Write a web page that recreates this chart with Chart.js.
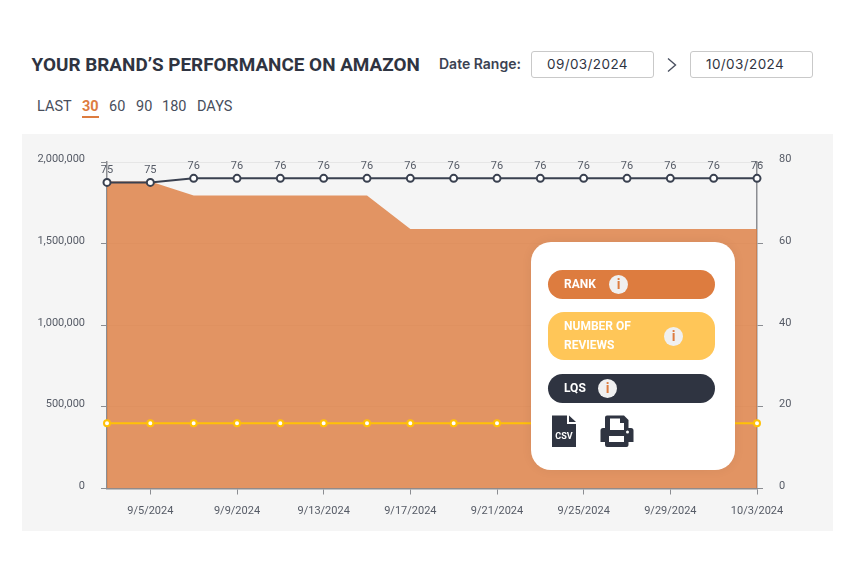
<!DOCTYPE html>
<html><head><meta charset="utf-8">
<script src="https://cdn.jsdelivr.net/npm/chart.js@4/dist/chart.umd.min.js"></script>
<style>
html,body{margin:0;padding:0;background:#fff;width:850px;height:580px;overflow:hidden;font-family:Roboto,sans-serif}
.a{position:absolute;white-space:nowrap}
#title{left:31.5px;top:54px;font:700 18.9px/22px Roboto;color:#2f3441}
.d{top:97px;font:400 14.5px/20px Roboto;color:#484e5c}
#dr{left:439px;top:54px;font:600 14px/20px Inter;color:#3b4252}
.box{top:51px;width:121px;height:25px;border:1px solid #c9c9c9;border-radius:3px;font:400 13.5px/25px Inter;color:#2f3441;letter-spacing:.4px;box-sizing:content-box}
#panel{left:22px;top:134px;width:811px;height:397px;background:#f5f5f5}
#panel canvas{display:block}
#card{left:531px;top:242px;width:204px;height:228px;background:#fff;border-radius:20px;box-shadow:0 0 12px rgba(0,0,0,.06)}
.pill{left:17px;width:167px;color:#fff;font:700 12px/19px Roboto;box-sizing:border-box}
.i{position:absolute;width:19px;height:19px;border-radius:50%;background:#f0f0f0;color:#dd7c3f;font:700 14px/19px Roboto;text-align:center}
</style></head><body>
<div class="a" id="title">YOUR BRAND’S PERFORMANCE ON AMAZON</div>
<div class="a d" style="left:37px">LAST</div>
<div class="a d" style="left:82px;font-weight:700;color:#dd7c3f;border-bottom:2px solid #dd7c3f;line-height:19px;height:19px">30</div>
<div class="a d" style="left:109px">60</div>
<div class="a d" style="left:136px">90</div>
<div class="a d" style="left:162px">180</div>
<div class="a d" style="left:197px">DAYS</div>
<div class="a" id="dr">Date Range:</div>
<div class="a box" style="left:531px"><span style="margin-left:15px">09/03/2024</span></div>
<svg class="a" style="left:665px;top:56px" width="14" height="18" viewBox="0 0 14 18"><path d="M3 2.5 L10.5 9 L3 15.5" fill="none" stroke="#4a5060" stroke-width="1.4"/></svg>
<div class="a box" style="left:690px"><span style="margin-left:15px">10/03/2024</span></div>
<div class="a" id="panel"><canvas id="c" width="811" height="397"></canvas></div>
<div class="a" id="card">
  <div class="a pill" style="top:28px;height:29px;background:#dd7c3f;border-radius:15px;padding:5px 0 0 16px">RANK<span class="i" style="left:61px;top:5px">i</span></div>
  <div class="a pill" style="top:70px;height:48px;background:#ffc658;border-radius:16px;padding:5px 0 0 16px;white-space:normal">NUMBER OF<br>REVIEWS<span class="i" style="left:116px;top:15px">i</span></div>
  <div class="a pill" style="top:132px;height:29px;background:#2f3441;border-radius:15px;padding:5px 0 0 16px">LQS<span class="i" style="left:50px;top:5px">i</span></div>
  <svg class="a" style="left:20px;top:173px" width="26" height="33" viewBox="0 0 26 33">
    <path d="M1 0.500 H16 V9 H25 V32 H1 Z" fill="#2f3441"/><path d="M18 0.500 L25 7 H18 Z" fill="#2f3441"/>
    <text x="13" y="24" text-anchor="middle" font-family="Roboto" font-weight="700" font-size="9" fill="#fff">CSV</text>
  </svg>
  <svg class="a" style="left:69px;top:173px" width="34" height="33" viewBox="0 0 34 33">
    <path d="M7 0.500 H24 L28.500 5 V13 H31 Q33.500 13 33.500 15.500 V27 H28.500 V30 Q28.500 32 26.500 32 H7 Q5 32 5 30 V27 H0.500 V15.500 Q0.500 13 3 13 H5 V2.500 Q5 0.500 7 0.500 Z" fill="#2f3441"/>
    <path d="M10 3.500 H20 V8 H24 V15 H10 Z" fill="#fff"/><rect x="9" y="21" width="15" height="6" fill="#fff"/><circle cx="27.500" cy="17" r="1.500" fill="#fff"/>
  </svg>
</div>
<script>
const categories = ["9/3/2024","9/5/2024","9/7/2024","9/9/2024","9/11/2024","9/13/2024","9/15/2024","9/17/2024","9/19/2024","9/21/2024","9/23/2024","9/25/2024","9/27/2024","9/29/2024","10/1/2024","10/3/2024"];
const rankValues = [1880000,1880000,1795000,1795000,1795000,1795000,1795000,1590000,1590000,1590000,1590000,1590000,1590000,1590000,1590000,1590000];
const reviewValues = [16,16,16,16,16,16,16,16,16,16,16,16,16,16,16,16];
const lqsValues = [75,75,76,76,76,76,76,76,76,76,76,76,76,76,76,76];
const leftTickMax = 2000000, rightTickMax = 80;

const TXT = '#565b66', AXIS = '#8b8d92';
const lqsLabels = {
  id:'lqsLabels',
  afterDatasetsDraw(chart){
    const ctx = chart.ctx, meta = chart.getDatasetMeta(2), data = chart.data.datasets[2].data;
    ctx.save();
    ctx.font = '11px Roboto'; ctx.fillStyle = TXT; ctx.textAlign='center'; ctx.textBaseline='middle';
    meta.data.forEach((p,i)=>ctx.fillText(String(data[i]), p.x, p.y-12));
    ctx.restore();
  }
};
const tickFont = {family:'Roboto', size:11, lineHeight:'5px'};
const yAxis = (position, max, step, width, fmt, gridOn) => ({
  type:'linear', position, min:0, max,
  afterFit(s){ s.width = width; },
  ticks:{stepSize:step, color:TXT, font:tickFont, padding:16,
         callback:v=>[fmt(v),'']},
  grid:{drawOnChartArea:gridOn, color:'rgba(0,0,0,.06)', tickColor:AXIS, tickLength:6, lineWidth:1},
  border:{display:true, color:AXIS, width:1.5}
});
new Chart(document.getElementById('c').getContext('2d'),{
  type:'line',
  data:{labels:categories, datasets:[
    {label:'Rank', data:rankValues, yAxisID:'y', order:3, fill:'origin', tension:0, borderWidth:0, pointRadius:0,
     backgroundColor:'rgba(221,124,63,.8)', borderColor:'rgba(221,124,63,.8)'},
    {label:'Number of Reviews', data:reviewValues, yAxisID:'y1', order:2, fill:false, tension:0, borderColor:'#ffc107', borderWidth:2,
     pointRadius:3, pointBorderWidth:2, pointBackgroundColor:'#fff', pointBorderColor:'#ffc107'},
    {label:'LQS', data:lqsValues, yAxisID:'y1', order:1, fill:false, tension:0, borderColor:'#3a4150', borderWidth:2,
     pointRadius:3.5, pointBorderWidth:2, pointBackgroundColor:'#fff', pointBorderColor:'#3a4150'}
  ]},
  options:{
    responsive:false, animation:false, devicePixelRatio:1,
    layout:{padding:{top:28,left:0,right:0,bottom:0}},
    plugins:{legend:{display:false},title:{display:false},tooltip:{enabled:false}},
    scales:{
      x:{type:'category', offset:false,
         afterBuildTicks(s){ s.ticks = s.ticks.filter(t=>t.value%2===1); },
         afterFit(s){ s.height = 42.5; },
         ticks:{autoSkip:false, maxRotation:0, color:TXT, font:{family:'Roboto',size:11}, padding:10,
                callback(v){ return this.getLabelForValue(v); }},
         grid:{drawOnChartArea:false, tickColor:AXIS, tickLength:6},
         border:{display:true,color:AXIS,width:1.5}},
      y: yAxis('left', leftTickMax, 500000, 85, v=>v.toLocaleString('en-US'), true),
      y1:yAxis('right', rightTickMax, 20, 76, v=>String(v), false)
    }
  },
  plugins:[lqsLabels]
});
</script>
</body></html>
